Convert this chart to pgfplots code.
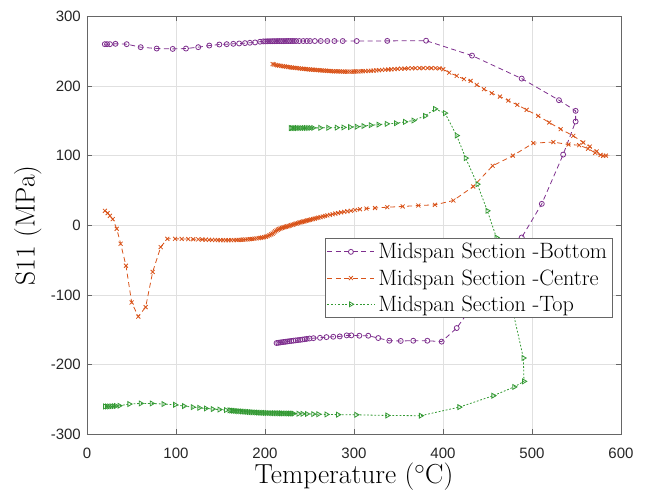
\documentclass[border=0pt]{standalone}
\usepackage{fontspec}
\usepackage{pgfplots}
\pgfplotsset{compat=1.18}
\newfontfamily\arialf{Liberation Sans}
\definecolor{mpurple}{HTML}{7E2F8E}
\definecolor{morange}{HTML}{D95319}
\definecolor{mgreen}{HTML}{339933}

% Midspan section - bottom (heating, then cooling)
\pgfplotstableread{
T S
20 260
22.5 260
25.8 260
32 260.5
44.6 260
60.3 255.7
78.3 253.7
96.3 253.2
111.2 253.7
125 255.7
137.4 258
148.7 259.5
157 260
164.4 260.5
171 261
177.5 261.5
183 262
188.8 262.5
194.4 263.5
198 264
200.5 264
202.5 264.1
204.5 264.2
206.5 264.2
208.5 264.3
210.5 264.3
212.5 264.3
214.5 264.4
216.5 264.4
218.5 264.4
220.5 264.4
222.5 264.4
224.5 264.5
226.5 264.5
228.5 264.5
230.5 264.5
232.5 264.5
235 264.5
238.5 264.5
243 264.5
247 264.5
250.6 264.5
256 264.5
262.6 264.5
270 264.5
278 264.5
287.3 264.5
303 264.5
337.4 264.7
381 265
432.6 243.6
488.4 210.6
530.3 179.6
549 164.3
549 149
535 101.5
511 30.8
488.4 -17.5
415.4 -147.5
398.5 -167
382.4 -165.7
366.6 -165.7
352.5 -166
339.7 -165.7
327.3 -161.8
316 -158.5
306 -158.5
297 -158
291.8 -158
284 -159.5
276.7 -160
269 -160.5
261.8 -161.5
254.4 -162
250 -162.5
247 -163
244.5 -163.5
242 -164
239.5 -164.4
237 -164.8
234.5 -165.2
232 -165.6
229.5 -166
227 -166.4
225 -166.8
223 -167.2
221 -167.5
219 -167.8
217 -168.2
215 -168.6
213 -169
}\bottomdata

% Midspan section - centre
\pgfplotstableread{
T S
20.2 20.8
23.2 17.5
25.8 13.6
28.9 8.9
33.4 -5
37.8 -26.5
43.8 -58
50.2 -110.8
57.6 -131
65.9 -117.4
73.8 -67
82.8 -31.3
90.2 -19.4
98.9 -19.4
106.4 -19.6
113.8 -19.8
119.4 -20
125 -20.2
129.5 -20.4
133.5 -20.6
137 -20.8
140.5 -21
144 -21.1
147 -21.2
150 -21.3
153 -21.3
156 -21.4
159 -21.4
162 -21.3
165 -21.2
168 -21.1
170.5 -21
173 -20.8
175.5 -20.6
178 -20.4
180.5 -20.2
183 -19.9
185.5 -19.6
188 -19.2
190.5 -18.8
193 -18.4
195 -18
197 -17.5
199 -17
201 -16.3
203 -15.4
205 -14.3
207 -13.1
208.5 -11.8
210 -10.3
211.5 -8.8
213 -7.4
214.5 -6.3
216 -5.3
217.5 -4.5
219 -3.8
220.5 -3.2
222 -2.6
223.5 -2
225 -1.5
226.5 -1
228 -0.4
229.5 0.2
231 0.8
232.5 1.4
234 2
235.5 2.6
237 3.2
238.5 3.8
240 4.4
241.5 4.9
243 5.4
244.5 5.9
246 6.4
247.5 6.9
249 7.4
250.5 7.9
252 8.4
254 9
256 9.7
258 10.4
260 11
262.5 11.8
265 12.6
267.5 13.4
270 14.1
273 15
276 15.9
279 16.8
282 17.6
285.5 18.5
289 19.3
292.5 20.1
296.5 20.9
301 21.9
306.7 23
314 24
323.6 24.8
337.4 26
354.7 27
372.3 28.4
391 29.4
411.6 35.6
434 55.7
455.8 85.4
478.5 100
501.5 118
524 119.4
541 116
553 115
563 110
571 104
577 101
583 100
580 99.7
572.7 106
565 113
557.6 118.8
546.4 128.4
532.2 138
519.4 147.5
507 157
494 165.7
483.5 173
473.4 179
464 184.8
454.7 189.7
446 195.4
437.9 201.6
431 207.3
423.6 209.8
415.4 214.5
407 219.2
400.3 224
396 225.3
391.5 225.5
387 225.6
382.5 225.7
378 225.7
373.5 225.6
369 225.5
365 225.4
361 225.2
357 225
353 224.8
349 224.5
345.5 224.2
342 223.9
338.5 223.6
335 223.3
331.5 223
328 222.7
325 222.4
322 222.1
319 221.8
316 221.6
313 221.4
310 221.2
307.5 221
305 220.9
302.5 220.8
300 220.7
297.5 220.6
295 220.6
292.5 220.6
290 220.6
288 220.7
286 220.7
284 220.8
282 220.9
280 221
278 221.1
276 221.2
274 221.4
272 221.5
270 221.7
268 221.9
266 222.1
264 222.3
262 222.5
260 222.7
258 222.9
256 223.1
254 223.3
252 223.5
250 223.7
248 224
246 224.2
244 224.5
242 224.7
240 225
238 225.3
236 225.6
234 225.9
232 226.2
230 226.5
228 226.9
226 227.2
224 227.6
222 228
220 228.4
218 228.8
216 229.2
214 229.7
212 230.2
210 230.8
208.6 231.5
}\centredata

% Midspan section - top
\pgfplotstableread{
T S
20.2 -260
22.5 -260
25 -260
27.5 -259.8
30 -259.6
32.5 -259.3
36.3 -259
47.5 -256.6
60.3 -255.7
72.7 -255.7
85.8 -256.6
98.9 -257.6
109 -259.5
118.7 -261
126 -262
133.5 -262.9
141.2 -263.8
148.7 -264.5
156 -265.2
160 -265.6
162 -265.9
164 -266.1
166 -266.3
168 -266.6
170 -266.8
172 -267
174 -267.2
176 -267.4
178 -267.6
180 -267.8
182 -268
184 -268.2
186 -268.4
188 -268.5
190 -268.7
192 -268.8
194 -269
196 -269.1
198 -269.2
200 -269.3
202 -269.4
204 -269.5
206 -269.6
208 -269.7
210 -269.7
212 -269.8
214 -269.8
216 -269.9
218 -269.9
220 -270
222 -270
224 -270.1
226 -270.1
228 -270.2
230 -270.2
232 -270.3
237.5 -270.5
242 -270.6
247 -270.8
254 -271
259.8 -271.2
269 -271.5
282 -271.8
302.5 -272
337.4 -273
375 -273.3
418.3 -261
456.5 -244.6
480 -232
491 -224
490.3 -190.5
460 -17.5
449.8 20.8
438.6 59
425.5 96.4
415.4 128.8
402.2 161
391 167
379.8 157
366.7 150.4
357.3 148.5
347 146.5
336.7 145.6
327.4 144.5
318.7 143.7
310.5 142.5
303 141.5
295.5 141
288 140.5
280.5 140.2
271 140
262 139.9
254 139.8
251 139.8
248.5 139.7
246 139.7
243.5 139.7
241 139.6
238.5 139.6
236 139.6
234 139.5
232 139.5
230 139.5
228.9 139.5
}\topdata

\begin{document}
\begin{tikzpicture}
\begin{axis}[
  scale only axis,
  width=534pt, height=418pt,
  xmin=0, xmax=600, ymin=-300, ymax=300,
  xtick={0,100,...,600}, ytick={-300,-200,...,300},
  xticklabels={0,100,200,300,400,500,600},
  yticklabels={-300,-200,-100,0,100,200,300},
  tick align=inside, major tick length=5pt,
  tick style={black!60, line width=0.6pt},
  axis line style={black!60, line width=0.8pt},
  grid=major, grid style={black!12, line width=0.5pt},
  ticklabel style={font=\arialf\fontsize{15}{17}\selectfont, text=black!85},
  xticklabel style={anchor=north, inner sep=0pt, yshift=-13.5pt},
  yticklabel style={anchor=east, inner sep=0pt, xshift=-6pt},
  xlabel={Temperature ($^\circ$C)}, ylabel={S11 (MPa)},
  label style={font=\fontsize{27.5}{31}\selectfont},
  xlabel style={at={(axis description cs:0.5,-0.1187)}, anchor=base, inner sep=0pt},
  ylabel style={at={(axis description cs:-0.0848,0.5)}, anchor=south, inner sep=0pt},
  legend cell align=left,
  legend style={at={(axis description cs:1,0)}, anchor=south east,
    xshift=-8pt, yshift=116pt, draw=black!60, line width=0.8pt, fill=white,
    font=\fontsize{22.2}{25}\selectfont, inner xsep=2pt, inner ysep=0.5pt,
    row sep=0pt, nodes={inner xsep=3.5pt, inner ysep=4.6pt}},
  legend image code/.code={\draw[mark repeat=2, mark phase=2, #1]
    plot coordinates {(0pt,0pt) (23.5pt,0pt) (47pt,0pt)};},
]
\addplot[mpurple, line width=0.8pt, dash pattern=on 5pt off 3.5pt,
  mark=o, mark size=2.5pt, mark options={solid}] table[x=T, y=S] {\bottomdata};
\addplot[morange, line width=0.8pt, dash pattern=on 5pt off 3.5pt,
  mark=x, mark size=2.8pt, mark options={solid}] table[x=T, y=S] {\centredata};
\addplot[mgreen, line width=0.8pt, dash pattern=on 1.8pt off 1.8pt,
  mark=triangle, mark size=2.8pt, mark options={solid, rotate=-90}] table[x=T, y=S] {\topdata};
\legend{Midspan Section -Bottom, Midspan Section -Centre, Midspan Section -Top}
\end{axis}
\path ([xshift=-87pt, yshift=-57.6pt]current axis.south west)
  rectangle ([xshift=25pt, yshift=16.3pt]current axis.north east);
\end{tikzpicture}
\end{document}
